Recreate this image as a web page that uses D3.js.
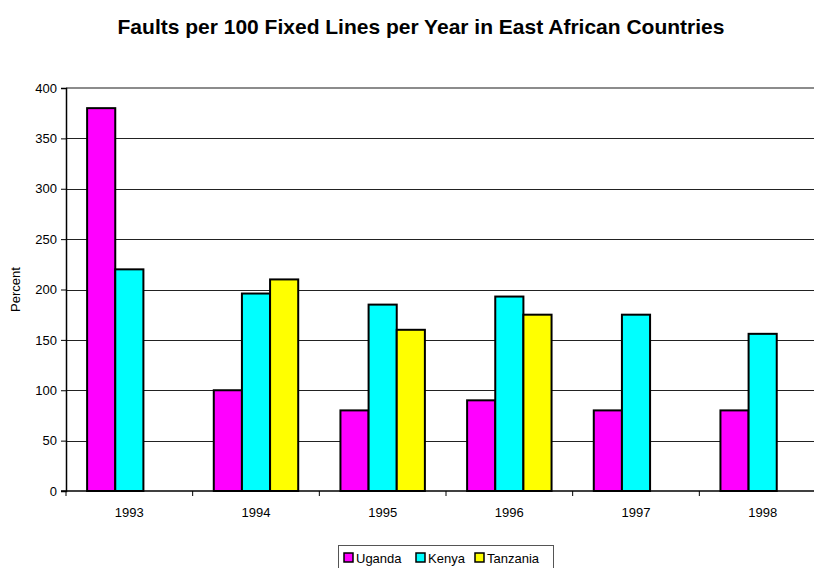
<!DOCTYPE html>
<html>
<head>
<meta charset="utf-8">
<script src="https://cdn.jsdelivr.net/npm/d3@7"></script>
<style>
  body { margin: 0; background: #fff; }
  svg text { font-family: "Liberation Sans", Arial, sans-serif; fill: #000; }
</style>
</head>
<body>
<div id="chart"></div>
<script>
// chart data
const years = ["1993", "1994", "1995", "1996", "1997", "1998"];
const seriesNames = ["Uganda", "Kenya", "Tanzania"];
const seriesColors = ["#ff00ff", "#00ffff", "#ffff00"];
const uganda = [380, 100, 80, 90, 80, 80];
const kenya = [220, 196, 185, 193, 175, 156];
const tanzania = [null, 210, 160, 175, null, null];
const yTicks = [0, 50, 100, 150, 200, 250, 300, 350, 400];

const config = {
  width: 814,
  height: 568,
  margin: {top: 88, left: 66},
  plotWidth: 760,
  plotHeight: 403
};

const svg = d3.select("#chart").append("svg")
    .attr("width", config.width)
    .attr("height", config.height);

const chart = svg.append("g")
    .attr("transform", `translate(${config.margin.left},${config.margin.top})`);

// scales
const x0 = d3.scaleBand()
    .domain(years)
    .range([0, config.plotWidth]);

const catW = x0.bandwidth();
const gap = catW * 1.5 / 4.5;

const x1 = d3.scaleBand()
    .domain(seriesNames)
    .range([gap / 2, catW - gap / 2]);

const y = d3.scaleLinear()
    .domain([0, 400])
    .range([config.plotHeight, 0]);

// gridlines
chart.append("g")
  .selectAll("line")
  .data(yTicks.filter(d => d > 0 && d < 400))
  .join("line")
    .attr("x1", 0)
    .attr("x2", config.plotWidth)
    .attr("y1", d => Math.round(y(d)) + 0.5)
    .attr("y2", d => Math.round(y(d)) + 0.5)
    .attr("stroke", "#222")
    .attr("stroke-width", 1);

// plot area top border
chart.append("line")
    .attr("x1", 0)
    .attr("x2", config.plotWidth)
    .attr("y1", y(400))
    .attr("y2", y(400))
    .attr("stroke", "#8c8c8c")
    .attr("stroke-width", 2);

// bars
const table = years.map((yr, i) => ({
  year: yr,
  values: [uganda[i], kenya[i], tanzania[i]]
}));

const groups = chart.selectAll(".group")
    .data(table)
  .join("g")
    .attr("class", "group")
    .attr("transform", d => `translate(${x0(d.year)},0)`);

groups.selectAll("rect")
    .data(d => d.values.map((v, j) => ({name: seriesNames[j], value: v, color: seriesColors[j]})).filter(d => d.value != null))
  .join("rect")
    .attr("x", d => x1(d.name))
    .attr("y", d => y(d.value))
    .attr("width", x1.bandwidth())
    .attr("height", d => y(0) - y(d.value))
    .attr("fill", d => d.color)
    .attr("stroke", "#000")
    .attr("stroke-width", 2);

// y axis
const yAxis = d3.axisLeft(y)
    .tickValues(yTicks)
    .tickSize(5)
    .tickPadding(4);

const yAxisG = chart.append("g")
    .call(yAxis);
yAxisG.select(".domain").attr("stroke", "#000").attr("stroke-width", 1.5);
yAxisG.selectAll(".tick text").style("font-size", "13px");

// x axis
const xAxisG = chart.append("g")
    .attr("transform", `translate(0,${config.plotHeight})`);

xAxisG.append("line")
    .attr("x1", -5)
    .attr("x2", config.plotWidth)
    .attr("stroke", "#000")
    .attr("stroke-width", 1.5);

xAxisG.selectAll(".xtick")
    .data(years.concat(["end"]))
  .join("line")
    .attr("class", "xtick")
    .attr("x1", d => d === "end" ? config.plotWidth : x0(d))
    .attr("x2", d => d === "end" ? config.plotWidth : x0(d))
    .attr("y1", 0)
    .attr("y2", 5)
    .attr("stroke", "#000");

xAxisG.selectAll(".xlabel")
    .data(years)
  .join("text")
    .attr("class", "xlabel")
    .attr("x", d => x0(d) + catW / 2)
    .attr("y", 26)
    .attr("text-anchor", "middle")
    .style("font-size", "13px")
    .text(d => d);

// labels
svg.append("text")
    .attr("x", 421)
    .attr("y", 34)
    .attr("text-anchor", "middle")
    .style("font-size", "21px")
    .style("font-weight", "bold")
    .text("Faults per 100 Fixed Lines per Year in East African Countries");

svg.append("text")
    .attr("transform", `translate(20,${config.margin.top + config.plotHeight / 2}) rotate(-90)`)
    .attr("text-anchor", "middle")
    .style("font-size", "13px")
    .text("Percent");

// legend
const legend = svg.append("g")
    .attr("transform", "translate(338,545)");

legend.append("rect")
    .attr("x", 0.5)
    .attr("y", 0.5)
    .attr("width", 215)
    .attr("height", 30)
    .attr("fill", "#fff")
    .attr("stroke", "#555");

const legendX = [6, 78, 137];

const items = legend.selectAll(".item")
    .data(seriesNames)
  .join("g")
    .attr("class", "item")
    .attr("transform", (d, i) => `translate(${legendX[i]},0)`);

items.append("rect")
    .attr("x", 0)
    .attr("y", 8)
    .attr("width", 9)
    .attr("height", 9)
    .attr("fill", (d, i) => seriesColors[i])
    .attr("stroke", "#000")
    .attr("stroke-width", 1.5);

items.append("text")
    .attr("x", 12)
    .attr("y", 18)
    .style("font-size", "13px")
    .text(d => d);
</script>
</body>
</html>
